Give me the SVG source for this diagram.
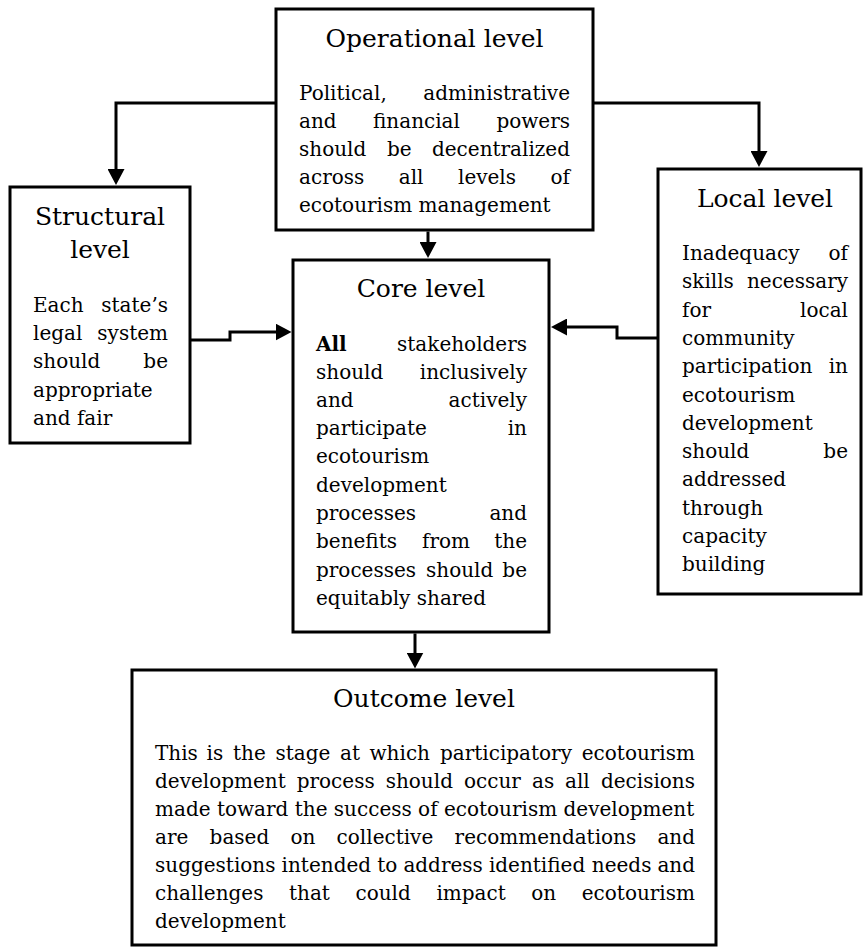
<svg xmlns="http://www.w3.org/2000/svg" width="863" height="950" viewBox="0 0 863 950">
<defs>
<style>
.box{fill:#fff;stroke:#000;stroke-width:3}
text{font-family:"DejaVu Serif","Liberation Serif",serif;fill:#000}
.t{font-size:25px;text-anchor:middle}
.b{font-size:20px}
.e{text-anchor:end}
.c{fill:none;stroke:#000;stroke-width:3}
</style>
<marker id="ah" markerUnits="userSpaceOnUse" markerWidth="16" markerHeight="17" refX="1" refY="8.5" orient="auto">
<path d="M0,0 L16,8.5 L0,17 z" fill="#000"/>
</marker>
</defs>
<rect width="863" height="950" fill="#fff"/>

<g id="connectors">
<path class="c" d="M276,103 H116 V170" marker-end="url(#ah)"/>
<path class="c" d="M593,103 H759 V152" marker-end="url(#ah)"/>
<path class="c" d="M428,231.5 V243" marker-end="url(#ah)"/>
<path class="c" d="M190,340 H230 V332 H276.5" marker-end="url(#ah)"/>
<path class="c" d="M658,338 H617 V327 H566" marker-end="url(#ah)"/>
<path class="c" d="M415,633.5 V653.5" marker-end="url(#ah)"/>
</g>

<g id="operational">
<rect class="box" x="276" y="9" width="317" height="221"/>
<text class="t" x="434.5" y="47">Operational level</text>
<g class="b">
<text x="299" y="100">Political,</text><text class="e" x="570" y="100">administrative</text>
<text x="299" y="128">and</text><text x="373" y="128">financial</text><text class="e" x="570" y="128">powers</text>
<text x="299" y="156">should</text><text x="387" y="156">be</text><text class="e" x="570" y="156">decentralized</text>
<text x="299" y="184">across</text><text x="398.8" y="184">all</text><text x="458" y="184">levels</text><text class="e" x="570" y="184">of</text>
<text x="299" y="212">ecotourism management</text>
</g>
</g>

<g id="structural">
<rect class="box" x="10" y="187" width="180" height="256"/>
<text class="t" x="100" y="225">Structural</text>
<text class="t" x="100" y="258">level</text>
<g class="b">
<text x="33" y="312">Each</text><text class="e" x="168" y="312">state’s</text>
<text x="33" y="340">legal</text><text class="e" x="168" y="340">system</text>
<text x="33" y="368">should</text><text class="e" x="168" y="368">be</text>
<text x="33" y="397">appropriate</text>
<text x="33" y="425">and fair</text>
</g>
</g>

<g id="core">
<rect class="box" x="293" y="260" width="256" height="372"/>
<text class="t" x="421" y="297">Core level</text>
<g class="b">
<text x="316" y="351" font-weight="bold">All</text><text class="e" x="527" y="351">stakeholders</text>
<text x="316" y="379">should</text><text class="e" x="527" y="379">inclusively</text>
<text x="316" y="407">and</text><text class="e" x="527" y="407">actively</text>
<text x="316" y="435">participate</text><text class="e" x="527" y="435">in</text>
<text x="316" y="463">ecotourism</text>
<text x="316" y="492">development</text>
<text x="316" y="520">processes</text><text class="e" x="527" y="520">and</text>
<text x="316" y="548">benefits</text><text x="422" y="548">from</text><text class="e" x="527" y="548">the</text>
<text x="316" y="577">processes</text><text x="426" y="577">should</text><text class="e" x="527" y="577">be</text>
<text x="316" y="605">equitably shared</text>
</g>
</g>

<g id="local">
<rect class="box" x="658" y="169" width="203" height="425"/>
<text class="t" x="765" y="207">Local level</text>
<g class="b">
<text x="682" y="260">Inadequacy</text><text class="e" x="848" y="260">of</text>
<text x="682" y="288">skills</text><text class="e" x="848" y="288">necessary</text>
<text x="682" y="317">for</text><text class="e" x="848" y="317">local</text>
<text x="682" y="345">community</text>
<text x="682" y="373">participation</text><text class="e" x="848" y="373">in</text>
<text x="682" y="402">ecotourism</text>
<text x="682" y="430">development</text>
<text x="682" y="458">should</text><text class="e" x="848" y="458">be</text>
<text x="682" y="486">addressed</text>
<text x="682" y="515">through</text>
<text x="682" y="543">capacity</text>
<text x="682" y="571">building</text>
</g>
</g>

<g id="outcome">
<rect class="box" x="132" y="670" width="584" height="275"/>
<text class="t" x="424" y="707">Outcome level</text>
<g class="b">
<text x="155" y="760">This</text><text x="206.5" y="760">is</text><text x="233" y="760">the</text><text x="275.5" y="760">stage</text><text x="340" y="760">at</text><text x="369.5" y="760">which</text><text x="440" y="760">participatory</text><text class="e" x="695" y="760">ecotourism</text>
<text x="155" y="788">development</text><text x="296.7" y="788">process</text><text x="385.7" y="788">should</text><text x="464" y="788">occur</text><text x="532" y="788">as</text><text x="565" y="788">all</text><text class="e" x="695" y="788">decisions</text>
<text x="155" y="816">made toward the success of ecotourism development</text>
<text x="155" y="844">are</text><text x="209.6" y="844">based</text><text x="290.5" y="844">on</text><text x="336.6" y="844">collective</text><text x="454.6" y="844">recommendations</text><text class="e" x="695" y="844">and</text>
<text x="155" y="872">suggestions</text><text x="281.6" y="872">intended</text><text x="377.2" y="872">to</text><text x="403.4" y="872">address</text><text x="488.9" y="872">identified</text><text x="591.8" y="872">needs</text><text class="e" x="695" y="872">and</text>
<text x="155" y="900">challenges</text><text x="289" y="900">that</text><text x="355.5" y="900">could</text><text x="436.4" y="900">impact</text><text x="531.3" y="900">on</text><text class="e" x="695" y="900">ecotourism</text>
<text x="155" y="928">development</text>
</g>
</g>
</svg>
